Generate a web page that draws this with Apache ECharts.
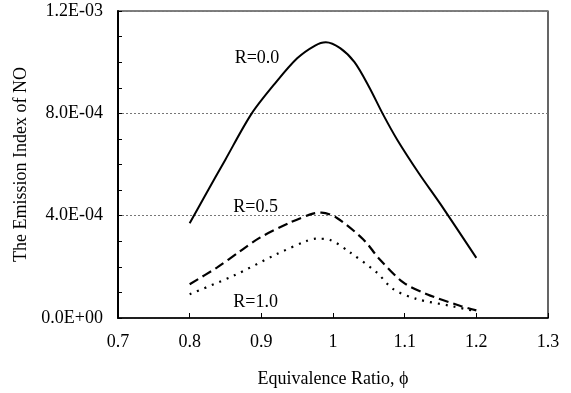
<!DOCTYPE html>
<html>
<head>
<meta charset="utf-8">
<script src="https://cdn.jsdelivr.net/npm/echarts@6/dist/echarts.min.js"></script>
<style>
  html, body { margin: 0; padding: 0; background: #fff; }
  #chart { width: 571px; height: 393px; }
</style>
</head>
<body>
<div id="chart"></div>
<script>
// 数据：当量比与NO排放指数
const phiR00 = [0.80, 0.821, 0.85, 0.886, 0.92, 0.95, 0.975, 0.99, 1.01, 1.03, 1.05, 1.07, 1.09, 1.12, 1.15, 1.2];
const noR00 = [3.70e-4, 4.76e-4, 6.20e-4, 7.97e-4, 9.20e-4, 10.15e-4, 10.65e-4, 10.78e-4, 10.55e-4, 10.00e-4, 9.05e-4, 7.95e-4, 6.95e-4, 5.65e-4, 4.45e-4, 2.35e-4];

const phiR05 = [0.80, 0.838, 0.87, 0.898, 0.94, 0.972, 0.984, 1.005, 1.042, 1.065, 1.098, 1.131, 1.177, 1.2];
const noR05 = [1.32e-4, 1.97e-4, 2.60e-4, 3.14e-4, 3.73e-4, 4.08e-4, 4.12e-4, 3.92e-4, 3.08e-4, 2.30e-4, 1.39e-4, 0.93e-4, 0.48e-4, 0.30e-4];

const phiR10 = [0.80, 0.861, 0.921, 0.963, 0.977, 0.996, 1.024, 1.061, 1.084, 1.117, 1.163, 1.2];
const noR10 = [0.93e-4, 1.65e-4, 2.49e-4, 3.01e-4, 3.10e-4, 3.05e-4, 2.56e-4, 1.78e-4, 1.13e-4, 0.74e-4, 0.48e-4, 0.26e-4];

const pairs = (xs, ys) => xs.map((x, i) => [x, ys[i]]);

// 1.2E-03 形式
function sci(v) {
	if (Math.abs(v) < 1e-12) return '0.0E+00';
	const p = Math.floor(Math.log10(Math.abs(v)) + 1e-9);
	const m = v / Math.pow(10, p);
	const sign = p < 0 ? '-' : '+';
	const e = String(Math.abs(p)).padStart(2, '0');
	return m.toFixed(1) + 'E' + sign + e;
}

const font = 'Liberation Serif';
const fs = 18;
const myChart = echarts.init(document.getElementById('chart'));

const txt = { fontFamily: font, fontSize: fs, color: '#000' };

const option = {
	animation: false,
	textStyle: { fontFamily: font },
	grid: {
		left: 118, right: 23, top: 11, bottom: 74,
		show: true, borderColor: '#000', borderWidth: 1.2
	},
	xAxis: {
		type: 'value',
		min: 0.7, max: 1.3, interval: 0.1,
		name: 'Equivalence Ratio, \u03d5',
		nameLocation: 'middle',
		nameGap: 52,
		nameTextStyle: txt,
		axisLine: { lineStyle: { color: '#000', width: 1.5 } },
		axisTick: { inside: true, length: 5, lineStyle: { color: '#000' } },
		axisLabel: Object.assign({ margin: 15, formatter: v => String(Math.round(v * 10) / 10) }, txt),
		splitLine: { show: false }
	},
	yAxis: {
		type: 'value',
		min: 0, max: 1.2e-3, interval: 4e-4,
		name: 'The Emission Index of NO',
		nameLocation: 'middle',
		nameGap: 86,
		nameTextStyle: txt,
		axisLine: { show: true, lineStyle: { color: '#000', width: 2 } },
		axisTick: { show: true, inside: true, length: 4, lineStyle: { color: '#000' } },
		minorTick: { show: true, splitNumber: 4, length: 4, lineStyle: { color: '#000' } },
		axisLabel: Object.assign({ margin: 15, formatter: v => sci(v) }, txt),
		splitLine: { show: true, lineStyle: { color: '#777', type: [2, 2], width: 1 } }
	},
	series: [
		{
			name: 'R=0.0', type: 'line', smooth: 0.3, symbol: 'none',
			data: pairs(phiR00, noR00),
			lineStyle: { color: '#000', width: 2 },
			markPoint: {
				symbol: 'circle', symbolSize: 0,
				label: Object.assign({ show: true, formatter: 'R=0.0' }, txt),
				data: [{ coord: [0.894, 10.17e-4] }]
			}
		},
		{
			name: 'R=0.5', type: 'line', smooth: 0.3, symbol: 'none',
			data: pairs(phiR05, noR05),
			lineStyle: { color: '#000', width: 2.2, type: [10, 5] },
			markPoint: {
				symbol: 'circle', symbolSize: 0,
				label: Object.assign({ show: true, formatter: 'R=0.5' }, txt),
				data: [{ coord: [0.892, 4.32e-4] }]
			}
		},
		{
			name: 'R=1.0', type: 'line', smooth: 0.3, symbol: 'none',
			data: pairs(phiR10, noR10),
			lineStyle: { color: '#000', width: 2.2, type: [2, 6] },
			markPoint: {
				symbol: 'circle', symbolSize: 0,
				label: Object.assign({ show: true, formatter: 'R=1.0' }, txt),
				data: [{ coord: [0.892, 0.6e-4] }]
			}
		}
	]
};

myChart.setOption(option);
</script>
</body>
</html>
